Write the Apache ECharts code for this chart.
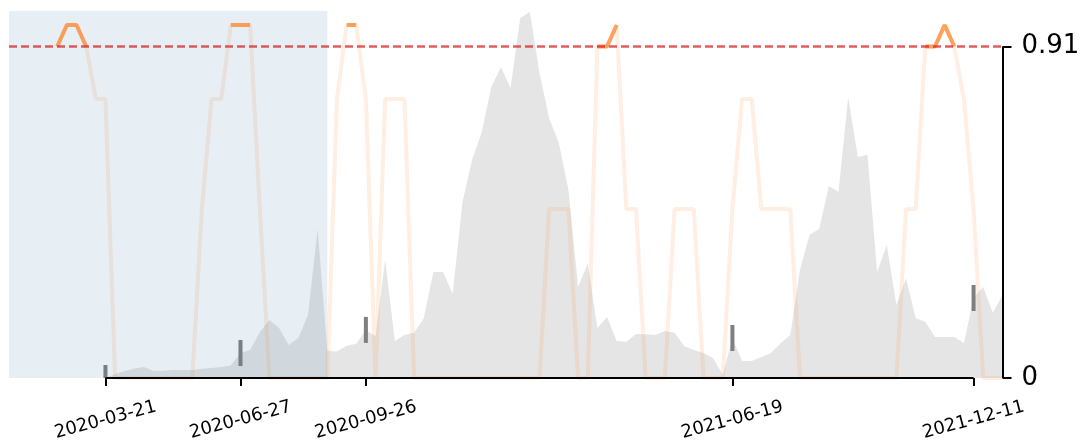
<!DOCTYPE html>
<html>
<head>
<meta charset="utf-8">
<script src="https://cdn.jsdelivr.net/npm/echarts@6/dist/echarts.min.js"></script>
<style>html,body{margin:0;padding:0;background:#fff}#c{width:1085px;height:443px}</style>
</head>
<body>
<div id="c"></div>
<script>
// ---- data ----
const startDate = '2020-01-11';
const weekCount = 104;
const tickDates = ['2020-03-21', '2020-06-27', '2020-09-26', '2021-06-19', '2021-12-11'];
const shadeRange = ['2020-01-11', '2020-08-29'];
const threshold = 0.91;
const yTickValues = [0, 0.91];

// weekly index series (right axis)
const orange = [
  null, null, null, null, null,
  0.91, 0.969, 0.969, 0.91, 0.766, 0.766,
  0, 0, 0, 0, 0, 0, 0, 0, 0,
  0.464, 0.766, 0.766, 0.969, 0.969, 0.969, 0.464,
  0, 0, 0, 0, 0, 0, 0,
  0.766, 0.969, 0.969, 0.766, 0, 0.766, 0.766, 0.766,
  0, 0, 0, 0, 0, 0, 0, 0, 0, 0, 0, 0, 0, 0,
  0.464, 0.464, 0.464, 0, 0, 0.91, 0.91, 0.969, 0.464, 0.464,
  0, 0, 0,
  0.464, 0.464, 0.464,
  0, 0, 0,
  0.464, 0.766, 0.766, 0.464, 0.464, 0.464, 0.464,
  0, 0, 0, 0, 0, 0, 0, 0, 0, 0, 0,
  0.464, 0.464, 0.91, 0.91, 0.969, 0.91, 0.766, 0.464,
  0, 0, 0
];

// weekly background counts (hidden left axis, arbitrary units)
const gray = [
  0, 0, 0, 0, 0, 0, 0, 0, 0, 0, 0,
  1.1, 1.9, 2.6, 3.0, 1.9, 2.0, 2.2, 2.2, 2.2, 2.5, 2.7, 3.0, 3.4,
  6.8, 7.6, 12.5, 15.8, 13.6, 9.0, 10.9, 17.2, 40.6, 7.4,
  7.2, 8.8, 9.3, 13.1, 11.4, 32.2, 10.1, 11.7, 12.3, 16.3,
  28.9, 28.9, 22.9, 47.7, 59.4, 66.8, 79.3, 84.7, 79.0, 98.1,
  99.7, 83.1, 70.8, 64.0, 51.2, 24.8, 31.3, 13.6, 16.6, 10.1,
  9.9, 12.0, 11.9, 11.7, 12.8, 12.3, 8.7, 7.6, 6.8, 5.4,
  0.8, 10.9, 4.6, 4.6, 5.7, 6.8, 9.5, 11.7, 29.4, 39.0,
  40.6, 52.3, 50.7, 76.6, 60.2, 60.8, 28.9, 36.2, 19.9, 27.2,
  16.3, 15.3, 11.2, 11.2, 11.2, 9.5, 21.8, 24.8, 17.7, 22.6
];
const markDates = tickDates;

// ---- build ----
const categories = [];
(function () {
  const p = startDate.split('-').map(Number);
  const d0 = Date.UTC(p[0], p[1] - 1, p[2]);
  for (let i = 0; i < weekCount; i++) {
    categories.push(new Date(d0 + i * 7 * 86400000).toISOString().slice(0, 10));
  }
})();
const highlight = orange.map(v => (v != null && v >= threshold) ? v : null);
const lastCat = categories[categories.length - 1];
const FONT = 'DejaVu Sans';

const chart = echarts.init(document.getElementById('c'), null, { renderer: 'canvas' });
chart.setOption({
  animation: false,
  backgroundColor: '#fff',
  grid: { left: 9, right: 82.5, top: 11, bottom: 65, containLabel: false, outerBoundsMode: 'none' },
  xAxis: {
    type: 'category', data: categories, boundaryGap: false,
    axisLine: { show: false },
    axisTick: { show: true, interval: (i, v) => tickDates.includes(v), length: 8, lineStyle: { color: '#000', width: 2 } },
    axisLabel: {
      interval: (i, v) => tickDates.includes(v), rotate: 15, align: 'center', verticalAlign: 'middle',
      margin: 42, fontSize: 18, color: '#000', fontFamily: FONT
    },
    splitLine: { show: false }
  },
  yAxis: [
    { type: 'value', min: 0, max: 100, show: false },
    {
      type: 'value', min: 0, max: 1.0074, position: 'right',
      axisLine: { show: false }, splitLine: { show: false },
      axisTick: { show: true, customValues: yTickValues, length: 9, lineStyle: { color: '#000', width: 2 } },
      axisLabel: { customValues: yTickValues, fontSize: 26, color: '#000', margin: 19, fontFamily: FONT }
    }
  ],
  series: [
    {
      type: 'line', yAxisIndex: 0, data: gray, symbol: 'none', z: 1, silent: true,
      lineStyle: { width: 0 }, areaStyle: { color: '#e5e5e5', opacity: 1 }
    },
    {
      type: 'custom', yAxisIndex: 0, z: 2, silent: true,
      data: markDates.map(d => [d, gray[categories.indexOf(d)]]),
      renderItem: function (params, api) {
        const p = api.coord([api.value(0), api.value(1)]);
        const cs = params.coordSys;
        const r = echarts.graphic.clipRectByRect(
          { x: p[0] - 2, y: p[1] - 13, width: 4, height: 26 },
          { x: cs.x, y: cs.y, width: cs.width, height: cs.height });
        if (!r) return null;
        return { type: 'rect', shape: r, style: { fill: '#7f7f7f' } };
      }
    },
    {
      type: 'line', yAxisIndex: 1, data: orange, symbol: 'none', z: 2, silent: true,
      lineStyle: { color: 'rgba(253,141,60,0.15)', width: 4 }
    },
    {
      type: 'custom', yAxisIndex: 0, z: 3, silent: true,
      data: [[0, 0]],
      renderItem: function (params, api) {
        const cs = params.coordSys;
        const x0 = api.coord([categories.indexOf(shadeRange[0]), 0])[0];
        const x1 = api.coord([categories.indexOf(shadeRange[1]), 0])[0];
        return { type: 'rect', shape: { x: x0, y: cs.y, width: x1 - x0, height: cs.height },
          style: { fill: 'rgba(70,130,180,0.13)' } };
      }
    },
    {
      type: 'line', yAxisIndex: 1, data: highlight, symbol: 'none', z: 4, silent: true,
      lineStyle: { color: 'rgba(253,141,60,0.8)', width: 4 },
      markLine: {
        silent: true, symbol: ['none', 'none'], z: 5, label: { show: false },
        lineStyle: { color: 'rgba(214,39,40,0.75)', width: 2.5, type: [8, 4] },
        data: [{ yAxis: threshold }]
      }
    },
    {
      type: 'line', yAxisIndex: 1, data: [], symbol: 'none', z: 6, silent: true,
      markLine: {
        silent: true, symbol: ['none', 'none'], z: 6, label: { show: false },
        lineStyle: { color: '#000', width: 2, type: 'solid' },
        data: [
          [{ coord: [tickDates[0], 0] }, { coord: [tickDates[tickDates.length - 1], 0] }],
          [{ coord: [lastCat, yTickValues[0]] }, { coord: [lastCat, yTickValues[1]] }]
        ]
      }
    }
  ]
});
</script>
</body>
</html>
